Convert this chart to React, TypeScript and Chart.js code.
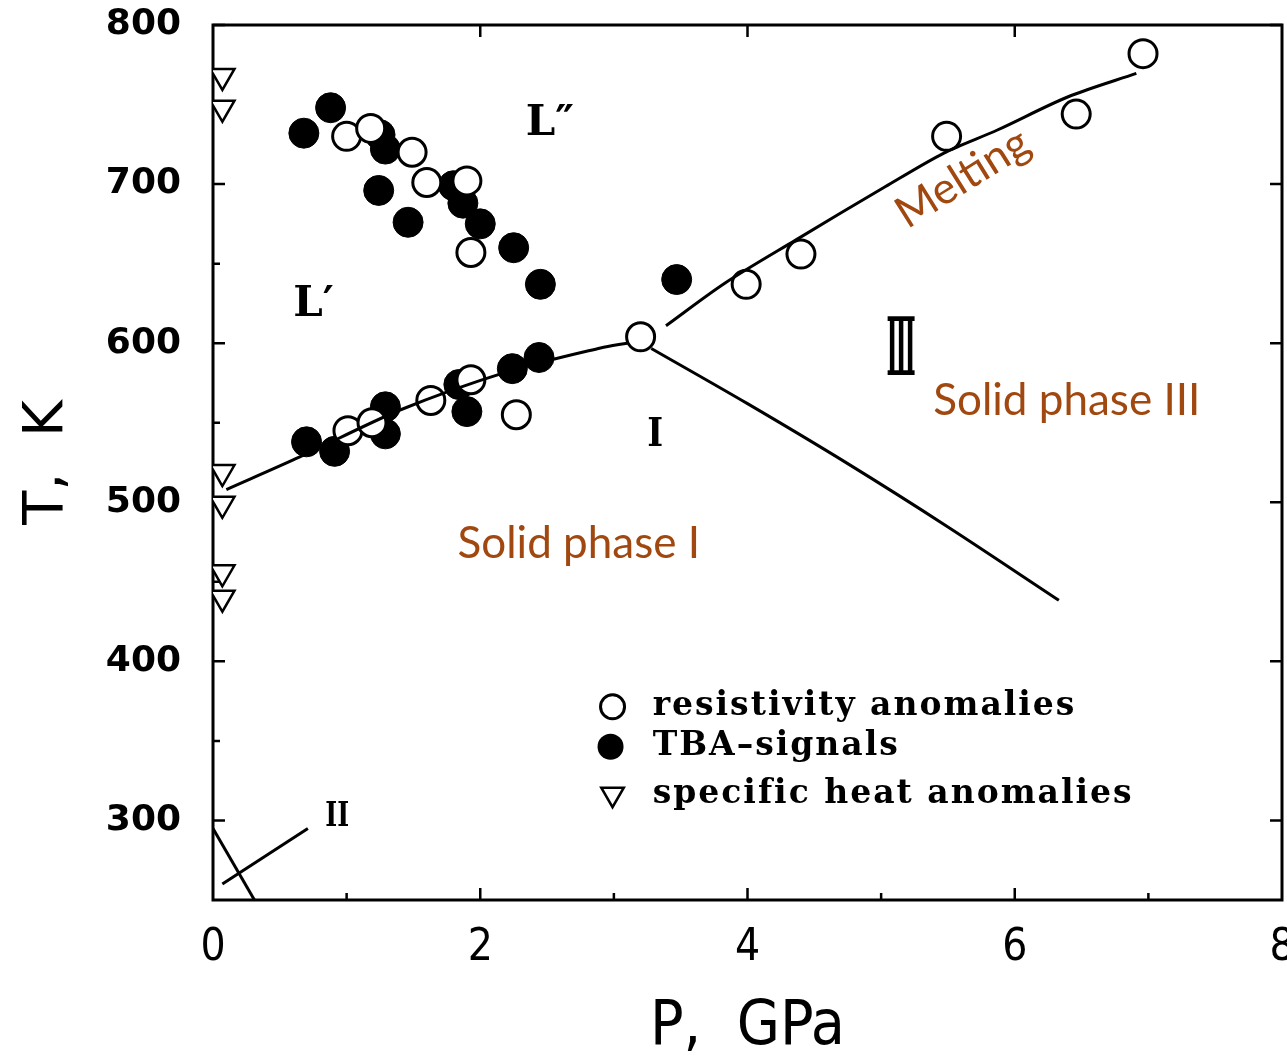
import React, { useEffect, useRef } from 'react';
import { Chart, registerables } from 'chart.js';

Chart.register(...registerables);

// ---- data (P in GPa, T in K) ----
const resistivityP = [1.0, 1.18, 1.49, 1.6, 1.9, 1.93, 1.01, 1.19, 1.63, 1.93, 2.27, 3.2, 3.99, 4.4, 5.49, 6.46, 6.96];
const resistivityT = [730, 735, 720, 701, 702, 657, 545, 550, 564, 577, 555, 604, 637, 656, 730, 744, 782];

const tbaP = [0.68, 0.88, 1.25, 1.29, 1.24, 1.46, 1.8, 1.87, 2.0, 2.25, 2.45, 3.47, 0.7, 0.91, 1.29, 1.29, 1.84, 1.9, 2.24, 2.44];
const tbaT = [732, 748, 731, 722, 696, 676, 699, 688, 675, 660, 637, 640, 538, 532, 560, 543, 574, 557, 584, 591];

const heatP = [0.07, 0.07, 0.07, 0.07, 0.07, 0.07];
const heatT = [768, 748, 519, 499, 456, 440];

const boundaryI_L_P = [0.1, 0.65, 1.4, 2.2, 2.9, 3.1];
const boundaryI_L_T = [508, 528.5, 558, 582, 597, 600];

const meltingP = [3.39, 3.83, 4.36, 5.03, 5.47, 5.87, 6.4, 6.91];
const meltingT = [611, 637.7, 664.8, 698.3, 719.5, 734, 754.9, 769.6];

const boundaryI_III_P = [3.28, 4.0, 4.75, 5.5, 6.33];
const boundaryI_III_T = [596.7, 562, 524.3, 484.5, 438.4];

const lineII_a_P = [0.07, 0.71];
const lineII_a_T = [260, 295];
const lineII_b_P = [0.0, 0.31];
const lineII_b_T = [295, 250];

const xTicks = [0, 2, 4, 6, 8];
const yTicks = [300, 400, 500, 600, 700, 800];

const legendLabels = ['resistivity anomalies', 'TBA\u2013signals', 'specific heat anomalies'];

const zip = (xs: number[], ys: number[]) => xs.map((x, i) => ({ x, y: ys[i] }));

const BROWN = '#A0480F';
const SERIF = "'DejaVu Serif', 'Liberation Serif', serif";
const SANS = "'DejaVu Sans', sans-serif";
const BRUSH = "Lato, 'Open Sans', sans-serif";

const zeroPad = (s: any) => {
  s.paddingTop = 0;
  s.paddingBottom = 0;
  s.paddingLeft = 0;
  s.paddingRight = 0;
};

export default function App() {
  const ref = useRef<HTMLCanvasElement>(null);

  useEffect(() => {
    document.body.style.margin = '0';
    const canvas = ref.current!;

    const framePlugin = {
      id: 'frame',
      beforeDatasetsDraw(chart: any) {
        const { ctx, chartArea: a, scales } = chart;
        const xs = scales.x, ys = scales.y;
        ctx.save();
        ctx.strokeStyle = '#000';
        ctx.lineWidth = 3;
        ctx.strokeRect(a.left, a.top, a.right - a.left, a.bottom - a.top);
        ctx.lineWidth = 2.5;
        ctx.beginPath();
        for (let t = 300; t <= 800; t += 50) {
          const y = ys.getPixelForValue(t);
          const major = t % 100 === 0;
          ctx.moveTo(a.left, y);
          ctx.lineTo(a.left + (major ? 12 : 7), y);
          if (major) {
            ctx.moveTo(a.right, y);
            ctx.lineTo(a.right - 12, y);
          }
        }
        for (let p = 1; p <= 7; p++) {
          const x = xs.getPixelForValue(p);
          const major = p % 2 === 0;
          ctx.moveTo(x, a.bottom);
          ctx.lineTo(x, a.bottom - (major ? 12 : 7));
          if (major) {
            ctx.moveTo(x, a.top);
            ctx.lineTo(x, a.top + 12);
          }
        }
        ctx.stroke();
        ctx.restore();
      },
    };

    const annotations = [
      { text: 'L\u2033', p: 2.34, t: 738, font: `bold 42px ${SERIF}`, color: '#000', align: 'left', rot: 0, sx: 1 },
      { text: 'L\u2032', p: 0.6, t: 624, font: `bold 42px ${SERIF}`, color: '#000', align: 'left', rot: 0, sx: 1 },
      { text: 'I', p: 3.31, t: 542, font: `bold 40px ${SERIF}`, color: '#000', align: 'center', rot: 0, sx: 0.85 },
      { text: 'II', p: 0.84, t: 302, font: `bold 34px ${SERIF}`, color: '#000', align: 'left', rot: 0, sx: 0.75 },
      { text: 'Solid phase III', p: 5.39, t: 564, font: `44px ${BRUSH}`, color: BROWN, align: 'left', rot: 0, sx: 1 },
      { text: 'Solid phase I', p: 1.83, t: 474, font: `44px ${BRUSH}`, color: BROWN, align: 'left', rot: 0, sx: 1 },
      { text: 'Melting', p: 5.61, t: 703.8, font: `44px ${BRUSH}`, color: BROWN, align: 'center', rot: -32, sx: 1 },
    ];

    const annotationPlugin = {
      id: 'annotations',
      afterDatasetsDraw(chart: any) {
        const { ctx, scales } = chart;
        ctx.save();
        ctx.textBaseline = 'middle';
        for (const an of annotations) {
          const x = scales.x.getPixelForValue(an.p);
          const y = scales.y.getPixelForValue(an.t);
          ctx.save();
          ctx.translate(x, y);
          ctx.rotate((an.rot * Math.PI) / 180);
          ctx.scale(an.sx, 1);
          ctx.font = an.font;
          ctx.fillStyle = an.color;
          ctx.textAlign = an.align as CanvasTextAlign;
          ctx.fillText(an.text, 0, 0);
          ctx.restore();
        }
        // phase III label (tall numeral)
        {
          const x = scales.x.getPixelForValue(5.15);
          const y = scales.y.getPixelForValue(593);
          ctx.save();
          ctx.translate(x, y);
          ctx.scale(0.6, 2.0);
          ctx.font = `bold 40px ${SERIF}`;
          ctx.fillStyle = '#000';
          ctx.textAlign = 'center';
          ctx.fillText('\u2162', 0, 0);
          ctx.restore();
        }
        // legend
        const lx = scales.x.getPixelForValue(2.99);
        const tx = scales.x.getPixelForValue(3.29);
        const rows = [scales.y.getPixelForValue(371.5), scales.y.getPixelForValue(346.3), scales.y.getPixelForValue(316.5)];
        ctx.font = `bold 33px ${SERIF}`;
        (ctx as any).letterSpacing = '2px';
        ctx.textAlign = 'left';
        ctx.fillStyle = '#000';
        rows.forEach((y, i) => {
          ctx.save();
          ctx.lineWidth = 3;
          ctx.strokeStyle = '#000';
          if (i === 0) {
            ctx.beginPath();
            ctx.arc(lx, y, 12, 0, Math.PI * 2);
            ctx.fillStyle = '#fff';
            ctx.fill();
            ctx.stroke();
          } else if (i === 1) {
            ctx.beginPath();
            ctx.arc(lx - 2, y, 13, 0, Math.PI * 2);
            ctx.fillStyle = '#000';
            ctx.fill();
          } else {
            const r = 13;
            ctx.beginPath();
            ctx.moveTo(lx - r * 0.866, y - r * 0.5);
            ctx.lineTo(lx + r * 0.866, y - r * 0.5);
            ctx.lineTo(lx, y + r);
            ctx.closePath();
            ctx.lineWidth = 2.5;
            ctx.stroke();
          }
          ctx.restore();
          ctx.fillStyle = '#000';
          ctx.fillText(legendLabels[i], tx, y);
        });
        ctx.restore();
      },
    };

    const lineDs = (px: number[], py: number[], tension = 0.3) => ({
      data: zip(px, py),
      showLine: true,
      borderColor: '#000',
      borderWidth: 3,
      pointRadius: 0,
      tension,
      fill: false,
    });

    const chart = new Chart(canvas, {
      type: 'scatter',
      data: {
        datasets: [
          lineDs(boundaryI_L_P, boundaryI_L_T),
          lineDs(meltingP, meltingT),
          lineDs(boundaryI_III_P, boundaryI_III_T),
          lineDs(lineII_a_P, lineII_a_T, 0),
          lineDs(lineII_b_P, lineII_b_T, 0),
          {
            label: 'resistivity anomalies',
            data: zip(resistivityP, resistivityT),
            pointStyle: 'circle',
            pointRadius: 14,
            borderWidth: 3,
            borderColor: '#000',
            backgroundColor: '#fff',
          },
          {
            label: 'TBA-signals',
            data: zip(tbaP, tbaT),
            pointStyle: 'circle',
            pointRadius: 15,
            borderWidth: 1,
            borderColor: '#000',
            backgroundColor: '#000',
          },
          {
            label: 'specific heat anomalies',
            data: zip(heatP, heatT),
            pointStyle: 'triangle',
            rotation: 180,
            pointRadius: 14,
            borderWidth: 2.5,
            borderColor: '#000',
            backgroundColor: '#fff',
          },
        ],
      },
      options: {
        animation: false,
        responsive: false,
        maintainAspectRatio: false,
        layout: { autoPadding: false, padding: { top: 25, right: 5, left: 0, bottom: 0 } },
        plugins: { legend: { display: false }, tooltip: { enabled: false } },
        scales: {
          x: {
            type: 'linear',
            min: 0,
            max: 8,
            afterFit: (s: any) => { s.height = 159; zeroPad(s); },
            afterBuildTicks: (s: any) => { s.ticks = xTicks.map((v) => ({ value: v })); },
            grid: { display: false, drawTicks: false },
            border: { display: false },
            ticks: {
              color: '#000',
              padding: 22,
              font: { family: "'DejaVu Sans Condensed', 'DejaVu Sans', sans-serif", size: 44 },
              maxRotation: 0,
            },
            title: {
              display: true,
              text: 'P,  GPa',
              color: '#000',
              font: { family: "'DejaVu Sans Condensed', 'DejaVu Sans', sans-serif", size: 62, lineHeight: 1 },
              padding: { top: 0, bottom: 0 },
            },
          },
          y: {
            type: 'linear',
            min: 250,
            max: 800,
            afterFit: (s: any) => { s.width = 213; zeroPad(s); },
            afterBuildTicks: (s: any) => { s.ticks = yTicks.map((v) => ({ value: v })); },
            grid: { display: false, drawTicks: false },
            border: { display: false },
            ticks: {
              color: '#000',
              padding: 32,
              font: { family: SANS, size: 36, weight: 'bold' },
            },
            title: {
              display: true,
              text: 'T,  K',
              color: '#000',
              font: { family: SANS, size: 56 },
              padding: { top: 14, bottom: 8 },
            },
          },
        },
      },
      plugins: [framePlugin, annotationPlugin],
    } as any);

    return () => chart.destroy();
  }, []);

  return (
    <div style={{ position: 'absolute', left: 0, top: 0, width: 1287, height: 1059, background: '#fff' }}>
      <canvas ref={ref} width={1287} height={1059} style={{ width: 1287, height: 1059 }} />
    </div>
  );
}
